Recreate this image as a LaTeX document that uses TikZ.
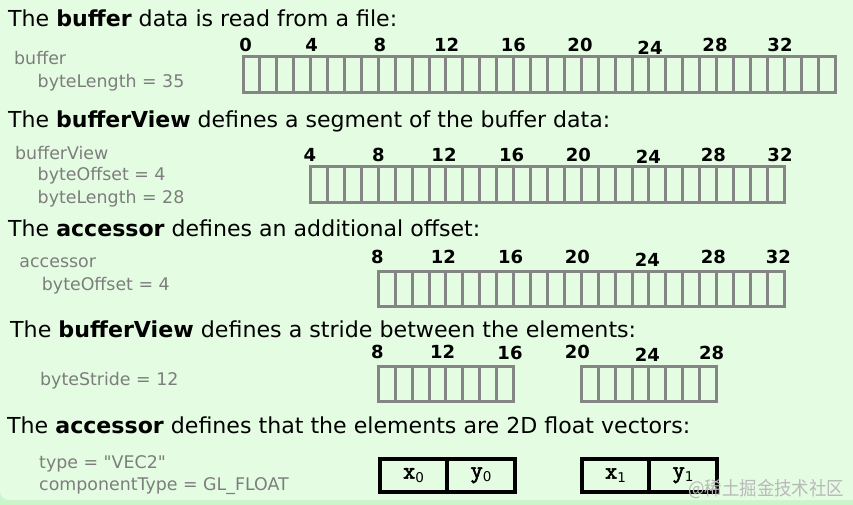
\documentclass[tikz,border=0pt]{standalone}
\usepackage{fontspec}
\setmainfont{DejaVu Sans}
\newfontfamily\propfont[Ligatures=TeXOff]{DejaVu Sans}
\newfontfamily\vecfont[FakeBold=2.5]{Latin Modern Mono}
\newfontfamily\cjkfont{Noto Sans CJK SC}
\definecolor{bgmain}{RGB}{228,253,226}
\definecolor{bgedge}{RGB}{202,245,200}
\definecolor{cellgray}{RGB}{133,133,133}
\definecolor{labgray}{RGB}{125,125,125}
\definecolor{marktext}{RGB}{185,185,185}
\def\cw{16.914}
\newcommand\vsub[1]{\raisebox{-3.6pt}{\rmfamily\fontsize{13.5}{13.5}\selectfont #1}}
\begin{document}
\begin{tikzpicture}[x=1pt,y=-1pt,
  head/.style={anchor=base west, inner sep=0, text=black, font=\fontsize{22}{26}\selectfont},
  prop/.style={anchor=base west, inner sep=0, text=labgray, font=\propfont\fontsize{17.4}{20}\selectfont},
  num/.style={anchor=base, inner sep=0, text=black, font=\bfseries\fontsize{18}{20}\selectfont},
  cellbox/.style={draw=cellgray, line width=3pt},
  vecbox/.style={draw=black, line width=4pt, minimum width=67.5pt, minimum height=32.7pt, inner sep=0,
    font=\vecfont\fontsize{24}{24}\selectfont},
  wmark/.style={anchor=base west, inner sep=0, text=marktext, font=\cjkfont\fontsize{19}{19}\selectfont}]
\useasboundingbox (0,0) rectangle (853,505);
% background
\fill[bgedge] (0,0) rectangle (853,505);
\fill[bgmain, rounded corners=9pt] (0,-20) rectangle (873,500);

% headers
\node[head] (h1) at (8,27) {\resizebox{389pt}{\height}{The \textbf{buffer} data is read from a file:}};
\node[head] (h2) at (8,128) {\resizebox{602pt}{\height}{The \textbf{bufferView} defines a segment of the buffer data:}};
\node[head] (h3) at (8,236) {\resizebox{472pt}{\height}{The \textbf{accessor} defines an additional offset:}};
\node[head] (h4) at (10,337) {\resizebox{626pt}{\height}{The \textbf{bufferView} defines a stride between the elements:}};
\node[head] (h5) at (7,433) {\resizebox{683pt}{\height}{The \textbf{accessor} defines that the elements are 2D float vectors:}};

% properties
\node[prop] (p1a) at (14,65) {buffer};
\node[prop] (p1b) at (37.5,87.3) {byteLength = 35};
\node[prop] (p2a) at (15,159.3) {bufferView};
\node[prop] (p2b) at (37.5,181) {byteOffset = 4};
\node[prop] (p2c) at (37.5,203) {byteLength = 28};
\node[prop] (p3a) at (19.3,267.3) {accessor};
\node[prop] (p3b) at (41.7,290) {byteOffset = 4};
\node[prop] (p4a) at (40,385) {byteStride = 12};
\node[prop] (p5a) at (39,468.3) {type = "VEC2"};
\node[prop] (p5b) at (39,490.7) {componentType = GL\_FLOAT};

% row 1 cells
\foreach \i in {0,...,34} \draw[cellbox] ({243+\cw*\i},57) rectangle ++(\cw,35.7);
% row 2 cells
\foreach \i in {4,...,31} \draw[cellbox] ({243+\cw*\i},166.7) rectangle ++(\cw,36);
% row 3 cells
\foreach \i in {8,...,31} \draw[cellbox] ({243+\cw*\i},271.7) rectangle ++(\cw,35);
% row 4 cells
\foreach \i in {8,...,15} \draw[cellbox] ({243+\cw*\i},366) rectangle ++(\cw,35.7);
\foreach \i in {20,...,27} \draw[cellbox] ({243+\cw*\i},366) rectangle ++(\cw,35.7);

% row labels
\foreach \t/\x/\y in {0/245.7/52,4/311.7/52,8/380/52,12/446.7/52,16/513.3/52,20/580/52,24/650/54.5,28/715/52,32/780/52}
  \node[num] (ra\t) at (\x,\y) {\t};
\foreach \t/\x/\y in {4/310/161,8/378.3/161,12/444/161,16/511.7/161,20/578.3/161,24/648.3/163.5,28/713.3/161,32/780/161}
  \node[num] (rb\t) at (\x,\y) {\t};
\foreach \t/\x/\y in {8/377.3/263.5,12/443.3/263.5,16/510.7/263.5,20/577.3/263.5,24/647.3/266,28/713.3/263.5,32/778.3/263.5}
  \node[num] (rc\t) at (\x,\y) {\t};
\foreach \t/\x/\y in {8/377.3/358.5,12/442.7/358.5,16/510/359.3,20/577.3/358.5,24/647.3/361.5,28/711.7/359.3}
  \node[num] (rd\t) at (\x,\y) {\t};

% vector boxes
\node[vecbox] (x0) at (413.5,475.3) {x\vsub{0}};
\node[vecbox] (y0) at (481,475.3) {y\vsub{0}};
\node[vecbox] (x1) at (615.5,475.3) {x\vsub{1}};
\node[vecbox] (y1) at (683,475.3) {y\vsub{1}};

% watermark
\node[wmark] (wm) at (688,495) {\resizebox{156pt}{\height}{@稀土掘金技术社区}};
\end{tikzpicture}
\end{document}
